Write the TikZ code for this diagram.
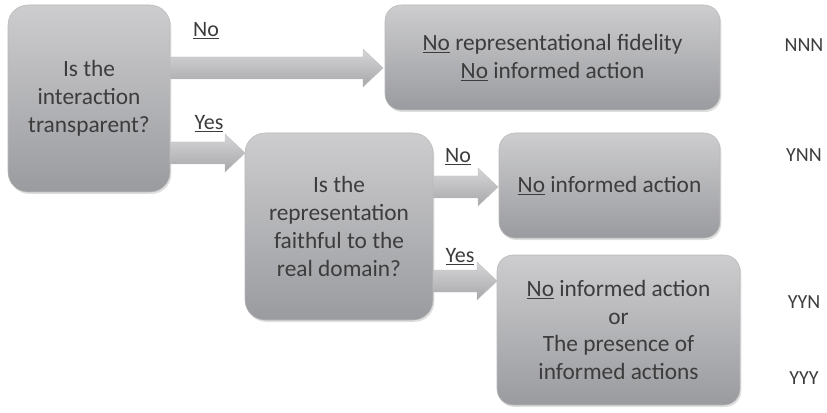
\documentclass[tikz,border=0pt]{standalone}
\usepackage{fontspec}
\setmainfont{Carlito}
\usepackage{tikz}
\usetikzlibrary{calc,shadows}

\definecolor{boxtop}{HTML}{CDCDCF}
\definecolor{boxbot}{HTML}{9A9B9F}
\definecolor{arrtop}{HTML}{D6D6D8}
\definecolor{arrbot}{HTML}{A7A7AA}
\definecolor{ink}{HTML}{3C3C3C}

% block arrow from a start point to a tip (same height)
\newcommand{\blockarrow}[2]{%
  \path[blockarr] let \p1=(#1), \p2=(#2) in
    (\x1,\y1+8.25pt) -- (\x2-15pt,\y1+8.25pt) -- (\x2-15pt,\y1+14.25pt)
    -- (\x2,\y1) -- (\x2-15pt,\y1-14.25pt) -- (\x2-15pt,\y1-8.25pt)
    -- (\x1,\y1-8.25pt) -- cycle;}

\begin{document}
\begin{tikzpicture}[x=0.75pt,y=-0.75pt,
  font=\fontsize{17.5}{20.8}\selectfont, text=ink,
  decision/.style={rounded corners=15pt, top color=boxtop, bottom color=boxbot,
    draw=gray!55, line width=0.4pt, align=center,
    drop shadow={opacity=0.25, shadow xshift=1pt, shadow yshift=-1.5pt}},
  outcome/.style={decision, rounded corners=12pt},
  blockarr/.style={top color=arrtop, bottom color=arrbot, draw=gray!50, line width=0.3pt},
  branch/.style={font=\fontsize{16.5}{18}\selectfont},
  code/.style={font=\fontsize{15}{17}\selectfont}]
 \useasboundingbox (0,0) rectangle (827,413);
 % boxes
 \node[decision, minimum width=121.5pt, minimum height=140.25pt] (transp) at (89,98.5)
   {Is the\\interaction\\transparent?};
 \node[outcome, minimum width=251.25pt, minimum height=78.75pt] (nofid) at (552.5,57.5)
   {\underline{No} representational fidelity\\\underline{No} informed action};
 \node[decision, minimum width=141pt, minimum height=140.25pt] (faith) at (339,226.5)
   {Is the\\representation\\faithful to the\\real domain?};
 \node[outcome, minimum width=165.75pt, minimum height=78.75pt] (noact) at (609.5,185.5)
   {\underline{No} informed action};
 \node[outcome, minimum width=182.25pt, minimum height=112.5pt] (maybe) at (618.5,330)
   {\underline{No} informed action\\or\\The presence of\\informed actions};
 % arrows
 \coordinate (tipB) at (383,68);
 \coordinate (tipC) at (245,153);
 \coordinate (tipD) at (498,187);
 \coordinate (tipE) at (497,281);
 \blockarrow{transp.east |- tipB}{tipB}
 \blockarrow{transp.east |- tipC}{tipC}
 \blockarrow{faith.east |- tipD}{tipD}
 \blockarrow{faith.east |- tipE}{tipE}
 % branch labels
 \node[branch] (noA) at (206,31) {\underline{No}};
 \node[branch] (yesA) at (209,124) {\underline{Yes}};
 \node[branch] (noC) at (458,157) {\underline{No}};
 \node[branch] (yesC) at (460,257) {\underline{Yes}};
 % codes
 \node[code] (nnn) at (804,45) {NNN};
 \node[code] (ynn) at (804,155) {YNN};
 \node[code] (yyn) at (804,302) {YYN};
 \node[code] (yyy) at (804,378) {YYY};
\end{tikzpicture}
\end{document}
